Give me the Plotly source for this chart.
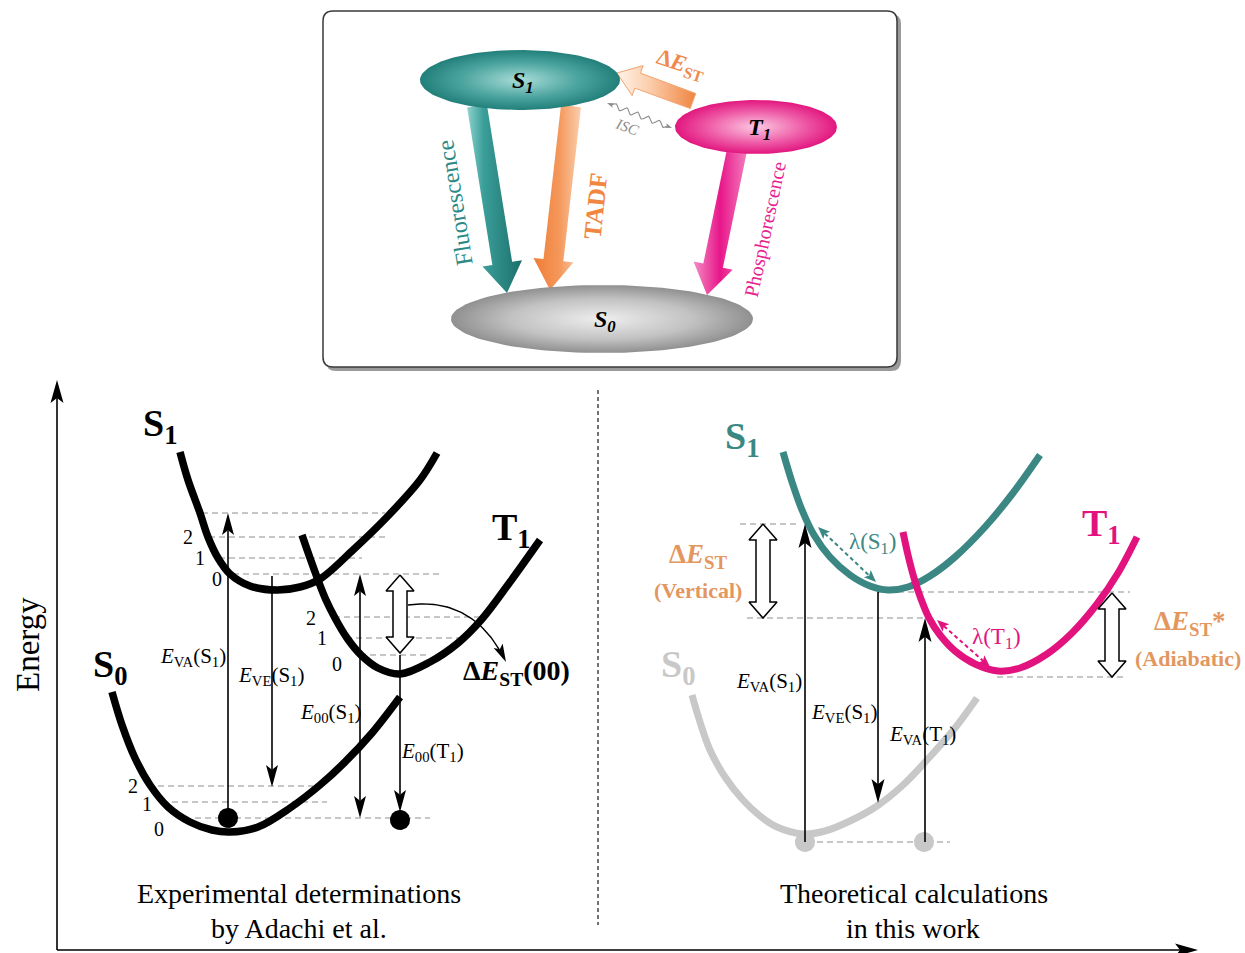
import numpy as np
import plotly.graph_objects as go

W, H = 1245, 953
SERIF = "Liberation Serif, Times New Roman, serif"

# ---------------- data ----------------
# Top panel: electronic states (ellipses)
box_states = ["S<sub>1</sub>", "T<sub>1</sub>", "S<sub>0</sub>"]
box_cx = [520, 756, 602]
box_cy = [80, 127, 319]
box_rx = [100, 81, 151]
box_ry = [30, 27, 34]

# Top panel transitions: tail -> tip
trans_tail_x = [477, 571, 737]
trans_tail_y = [106, 106, 150]
trans_tip_x = [507, 550, 707]
trans_tip_y = [293, 290, 295]
dEST_tail = [693, 101]
dEST_tip = [617, 73]
isc_from = [607, 103]
isc_to = [672, 128]

# Left panel (experimental) potential curves
expS1_x = [180, 188, 200, 208, 218, 230, 250, 277, 300, 320, 353, 387, 420, 437]
expS1_y = [452, 480, 513, 537, 558, 574, 586, 590, 587, 579, 550, 517, 480, 453]
expT1_x = [302, 310, 318, 326, 335, 347, 361, 378, 400, 430, 458, 482, 510, 540]
expT1_y = [535, 558, 580, 600, 618, 638, 655, 668, 674, 662, 643, 619, 582, 540]
expS0_x = [112, 122, 135, 150, 168, 190, 212, 230, 258, 290, 320, 345, 372, 400]
expS0_y = [692, 725, 758, 785, 807, 822, 830, 832, 827, 808, 785, 762, 733, 697]

# Left panel vibrational levels (y, x-start, x-end, label)
expS1_lv_y = [513, 537, 558, 574]
expS1_lv_x0 = [202, 209, 219, 233]
expS1_lv_x1 = [385, 385, 362, 440]
expS1_lv_lab = ["", "2", "1", "0"]
expT1_lv_y = [617, 638, 655]
expT1_lv_x0 = [334, 346, 360]
expT1_lv_x1 = [487, 463, 430]
expT1_lv_lab = ["2", "1", "0"]
expS0_lv_y = [786, 802, 818]
expS0_lv_x0 = [158, 172, 195]
expS0_lv_x1 = [313, 327, 430]
expS0_lv_lab = ["2", "1", "0"]

# Left panel transitions (x, y-from, y-to, kind)
exp_arr_x = [228, 272, 360, 400]
exp_arr_y0 = [818, 576, 574, 655]
exp_arr_y1 = [513, 787, 818, 812]
exp_arr_both = [False, False, True, False]
exp_arr_lab = ["<i>E</i><sub>VA</sub>(S<sub>1</sub>)", "<i>E</i><sub>VE</sub>(S<sub>1</sub>)",
               "<i>E</i><sub>00</sub>(S<sub>1</sub>)", "<i>E</i><sub>00</sub>(T<sub>1</sub>)"]
exp_lab_x = [193, 271, 331, 432]
exp_lab_y = [657, 676, 713, 752]
exp_dots_x = [228, 400]
exp_dots_y = [818, 820]

# Right panel (theory) potential curves
thS1_x = [783, 792, 802, 814, 830, 850, 870, 888, 908, 930, 955, 985, 1013, 1040]
thS1_y = [452, 482, 510, 535, 557, 575, 586, 590, 587, 576, 557, 527, 493, 455]
thT1_x = [903, 908, 914, 921, 929, 940, 955, 975, 998, 1020, 1047, 1072, 1097, 1118, 1137]
thT1_y = [532, 555, 578, 599, 618, 635, 651, 664, 671, 668, 654, 633, 604, 573, 537]
thS0_x = [692, 700, 710, 725, 743, 760, 777, 803, 825, 850, 877, 903, 927, 955, 977]
thS0_y = [695, 722, 750, 777, 800, 816, 827, 834, 831, 821, 806, 785, 760, 728, 698]

# Right panel reference levels
th_lv_y = [524, 592, 618, 677, 842]
th_lv_x0 = [740, 878, 747, 997, 817]
th_lv_x1 = [800, 1130, 927, 1127, 950]

th_arr_x = [805, 878, 925]
th_arr_y0 = [842, 592, 842]
th_arr_y1 = [524, 803, 618]
th_arr_lab = ["<i>E</i><sub>VA</sub>(S<sub>1</sub>)", "<i>E</i><sub>VE</sub>(S<sub>1</sub>)",
              "<i>E</i><sub>VA</sub>(T<sub>1</sub>)"]
th_lab_x = [769, 844, 922]
th_lab_y = [682, 713, 735]
th_dots_x = [805, 924]
th_dots_y = [842, 842]

# ---------------- helpers ----------------
fig = go.Figure()


def add_poly(xs, ys, color=None, grad=None, lc=None, lw=0):
    xs = list(xs) + [xs[0]]
    ys = list(ys) + [ys[0]]
    kw = dict(x=xs, y=ys, mode="lines", fill="toself", hoverinfo="skip", showlegend=False,
              line=dict(color=lc if lc else "rgba(0,0,0,0)", width=lw))
    if grad is not None:
        kw["fillgradient"] = grad
    else:
        kw["fillcolor"] = color
    fig.add_trace(go.Scatter(**kw))


def add_line(xs, ys, color, width, dash=None, spline=False):
    fig.add_trace(go.Scatter(x=list(xs), y=list(ys), mode="lines", hoverinfo="skip", showlegend=False,
                             line=dict(color=color, width=width, dash=dash,
                                       shape="spline" if spline else "linear", smoothing=1.0)))


def head_pts(tx, ty, fx, fy, L, Wd, notch=0.22):
    u = np.array([tx - fx, ty - fy], float)
    u /= np.hypot(*u)
    p = np.array([-u[1], u[0]])
    tip = np.array([tx, ty], float)
    back = tip - L * u
    n = tip - L * (1 - notch) * u
    pts = [tip, back + Wd / 2 * p, n, back - Wd / 2 * p]
    return [q[0] for q in pts], [q[1] for q in pts], n


def thin_arrow(x0, y0, x1, y1, color="black", lw=1.6, L=22, Wd=12, both=False, dash=None):
    hx, hy, n1 = head_pts(x1, y1, x0, y0, L, Wd)
    start = (x0, y0)
    if both:
        hx2, hy2, n0 = head_pts(x0, y0, x1, y1, L, Wd)
        start = n0
        add_poly(hx2, hy2, color)
    add_line([start[0], n1[0]], [start[1], n1[1]], color, lw, dash=dash)
    add_poly(hx, hy, color)


def fat_arrow(x0, y0, x1, y1, s, h, L, color=None, grad=None, lc=None, lw=0, both=False):
    P0 = np.array([x0, y0], float)
    P1 = np.array([x1, y1], float)
    u = (P1 - P0) / np.hypot(*(P1 - P0))
    p = np.array([-u[1], u[0]])
    back = P1 - L * u
    if both:
        back0 = P0 + L * u
        pts = [P0, back0 + h * p, back0 + s * p, back + s * p, back + h * p, P1,
               back - h * p, back - s * p, back0 - s * p, back0 - h * p]
    else:
        pts = [P0 + s * p, back + s * p, back + h * p, P1, back - h * p, back - s * p, P0 - s * p]
    add_poly([q[0] for q in pts], [q[1] for q in pts], color=color, grad=grad, lc=lc, lw=lw)


def dot(x, y, r, color):
    t = np.linspace(0, 2 * np.pi, 40)
    add_poly(x + r * np.cos(t), y + r * np.sin(t), color)


annotations = []


def txt(x, y, text, size, color="black", angle=0, family=SERIF, xanchor="center"):
    annotations.append(dict(x=x, y=y, xref="x", yref="y", text=text, showarrow=False,
                            font=dict(family=family, size=size, color=color),
                            textangle=angle, xanchor=xanchor, yanchor="middle"))


shapes = []


def dline(x0, y0, x1, y1, color="#b4b4b4", width=1.3, dash="6px,4px"):
    shapes.append(dict(type="line", x0=x0, y0=y0, x1=x1, y1=y1, xref="x", yref="y",
                       line=dict(color=color, width=width, dash=dash), layer="below"))


def rrect_path(x0, y0, x1, y1, r):
    return (f"M {x0+r},{y0} L {x1-r},{y0} Q {x1},{y0} {x1},{y0+r} L {x1},{y1-r} "
            f"Q {x1},{y1} {x1-r},{y1} L {x0+r},{y1} Q {x0},{y1} {x0},{y1-r} "
            f"L {x0},{y0+r} Q {x0},{y0} {x0+r},{y0} Z")


# ---------------- top box ----------------
shapes.append(dict(type="path", path=rrect_path(326, 14, 901, 371, 10), xref="x", yref="y",
                   fillcolor="#9a9a9a", line=dict(width=0), layer="below"))
shapes.append(dict(type="path", path=rrect_path(323, 11, 897, 367, 10), xref="x", yref="y",
                   fillcolor="white", line=dict(color="#3a3a3a", width=1.5), layer="below"))

trans_grads = [
    dict(type="horizontal", colorscale=[[0, "#8fd2cd"], [0.3, "#3a9e99"], [1, "#1c6e6a"]]),
    dict(type="horizontal", colorscale=[[0, "#f07c34"], [0.55, "#f4985c"], [1, "#fbcfae"]]),
    dict(type="horizontal", colorscale=[[0, "#f48cc3"], [0.5, "#e8168a"], [1, "#f27cbb"]]),
]
for i in range(3):
    fat_arrow(trans_tail_x[i], trans_tail_y[i], trans_tip_x[i], trans_tip_y[i], 10, 20, 30,
              grad=trans_grads[i])

fat_arrow(dEST_tail[0], dEST_tail[1], dEST_tip[0], dEST_tip[1], 8, 16, 22,
          grad=dict(type="horizontal", colorscale=[[0, "#fff3ea"], [0.4, "#fbcfae"], [1, "#ef8541"]]),
          lc="#f2a46f", lw=1)

# ISC wavy line
A = np.array(isc_from, float)
B = np.array(isc_to, float)
u = (B - A) / np.hypot(*(B - A))
pp = np.array([-u[1], u[0]])
s = np.linspace(0.1, 0.9, 120)
wav = A[None, :] + s[:, None] * (B - A)[None, :] + 2.6 * np.sin(2 * np.pi * 6 * s)[:, None] * pp[None, :]
add_line(wav[:, 0], wav[:, 1], "#8c8c8c", 1.1)
for (tx, ty), (fx, fy) in [((A[0], A[1]), (A[0] + u[0], A[1] + u[1])), ((B[0], B[1]), (B[0] - u[0], B[1] - u[1]))]:
    hx, hy, _ = head_pts(tx, ty, fx, fy, 7, 5)
    add_poly(hx, hy, "#8c8c8c")
add_line([A[0] + 5 * u[0], wav[0, 0]], [A[1] + 5 * u[1], wav[0, 1]], "#8c8c8c", 1.1)
add_line([wav[-1, 0], B[0] - 5 * u[0]], [wav[-1, 1], B[1] - 5 * u[1]], "#8c8c8c", 1.1)

ell_grads = [
    dict(type="radial", colorscale=[[0, "#a8dcd7"], [0.6, "#4aa39e"], [1, "#227f7a"]]),
    dict(type="radial", colorscale=[[0, "#fcc8e2"], [0.6, "#ee5aa6"], [1, "#e2177f"]]),
    dict(type="radial", colorscale=[[0, "#eeeeee"], [0.6, "#c2c2c2"], [1, "#909090"]]),
]
t = np.linspace(0, 2 * np.pi, 120)
for i in range(3):
    add_poly(box_cx[i] + box_rx[i] * np.cos(t), box_cy[i] + box_ry[i] * np.sin(t), grad=ell_grads[i])
    txt(box_cx[i] + 3, box_cy[i] + 2, f"<b><i>{box_states[i]}</i></b>", 24)

txt(455, 203, "Fluorescence", 24, "#2b8a86", angle=-99)
txt(595, 206, "<b>TADF</b>", 25, "#f08640", angle=-84)
txt(765, 229, "Phosphorescence", 20, "#e8228f", angle=-78)
txt(681, 65, "<b>Δ<i>E</i><sub>ST</sub></b>", 23, "#f08a4c", angle=18)
txt(627, 127, "<i>ISC</i>", 15, "#8c8c8c", angle=20)

# ---------------- axes of the lower panel ----------------
thin_arrow(57, 950, 57, 380, lw=1.6, L=23, Wd=13)
thin_arrow(57, 950, 1198, 950, lw=1.6, L=23, Wd=13)
txt(28, 645, "Energy", 33, angle=-90)
dline(598, 390, 598, 925, color="#444444", width=1.5, dash="4px,3px")

# ---------------- left panel ----------------
for ys, x0s, x1s in [(expS1_lv_y, expS1_lv_x0, expS1_lv_x1), (expT1_lv_y, expT1_lv_x0, expT1_lv_x1),
                     (expS0_lv_y, expS0_lv_x0, expS0_lv_x1)]:
    for y, a, b in zip(ys, x0s, x1s):
        dline(a, y, b, y)

add_line(expS1_x, expS1_y, "black", 7.5, spline=True)
add_line(expT1_x, expT1_y, "black", 7.5, spline=True)
add_line(expS0_x, expS0_y, "black", 7.5, spline=True)

for x, y in zip(exp_dots_x, exp_dots_y):
    dot(x, y, 10, "black")

for i in range(4):
    thin_arrow(exp_arr_x[i], exp_arr_y0[i], exp_arr_x[i], exp_arr_y1[i], both=exp_arr_both[i])
    txt(exp_lab_x[i], exp_lab_y[i], exp_arr_lab[i], 21)

# open double arrow dE_ST(00)
fat_arrow(400, 575, 400, 653, 7, 14, 16, color="white", lc="black", lw=1.5, both=True)

# curved arrow to dE_ST(00)
P0, C, P2 = np.array([408, 605.0]), np.array([474, 596.0]), np.array([506, 662.0])
tb = np.linspace(0, 0.9, 40)[:, None]
bz = (1 - tb) ** 2 * P0 + 2 * (1 - tb) * tb * C + tb ** 2 * P2
add_line(bz[:, 0], bz[:, 1], "black", 1.4)
hx, hy, _ = head_pts(P2[0], P2[1], C[0], C[1], 18, 10)
add_poly(hx, hy, "black")

lab_pos = {"S1": [(188, 537), (200, 558), (217, 579)], "T1": [(311, 618), (322, 638), (337, 664)],
           "S0": [(133, 786), (147, 804), (159, 829)]}
for lab, pos in zip(expS1_lv_lab[1:], lab_pos["S1"]):
    txt(pos[0], pos[1], lab, 20)
for lab, pos in zip(expT1_lv_lab, lab_pos["T1"]):
    txt(pos[0], pos[1], lab, 20)
for lab, pos in zip(expS0_lv_lab, lab_pos["S0"]):
    txt(pos[0], pos[1], lab, 20)

txt(160, 426, "<b>S<sub>1</sub></b>", 38)
txt(511, 530, "<b>T<sub>1</sub></b>", 38)
txt(110, 667, "<b>S<sub>0</sub></b>", 38)
txt(516, 672, "<b>Δ<i>E</i><sub>ST</sub>(00)</b>", 28)
txt(299, 893, "Experimental determinations", 28)
txt(299, 928, "by Adachi et al.", 28)

# ---------------- right panel ----------------
for y, a, b in zip(th_lv_y, th_lv_x0, th_lv_x1):
    dline(a, y, b, y)

TEAL, MAG, GRAY, ORG = "#3a8783", "#e2137f", "#c8c8c8", "#e3975f"
add_line(thS0_x, thS0_y, GRAY, 7, spline=True)
add_line(thS1_x, thS1_y, TEAL, 7, spline=True)
add_line(thT1_x, thT1_y, MAG, 7, spline=True)
for x, y in zip(th_dots_x, th_dots_y):
    dot(x, y, 10, GRAY)

for i in range(3):
    thin_arrow(th_arr_x[i], th_arr_y0[i], th_arr_x[i], th_arr_y1[i], L=24, Wd=13)
    txt(th_lab_x[i], th_lab_y[i], th_arr_lab[i], 21)

# reorganisation energies (dashed double arrows)
thin_arrow(818, 527, 876, 582, color=TEAL, lw=2, L=12, Wd=10, both=True, dash="4px,3px")
thin_arrow(937, 620, 990, 667, color=MAG, lw=2, L=12, Wd=10, both=True, dash="4px,3px")
txt(872, 543, "λ(S<sub>1</sub>)", 23, TEAL)
txt(996, 638, "λ(T<sub>1</sub>)", 23, MAG)

fat_arrow(763, 524, 763, 618, 7, 14, 16, color="white", lc="black", lw=1.5, both=True)
fat_arrow(1112, 593, 1112, 677, 7, 14, 16, color="white", lc="black", lw=1.5, both=True)

txt(742, 439, "<b>S<sub>1</sub></b>", 38, TEAL)
txt(1101, 526, "<b>T<sub>1</sub></b>", 38, MAG)
txt(678, 667, "<b>S<sub>0</sub></b>", 38, GRAY)
txt(698, 556, "<b>Δ<i>E</i><sub>ST</sub></b>", 27, ORG)
txt(698, 590, "<b>(Vertical)</b>", 22, ORG)
txt(1190, 623, "<b>Δ<i>E</i><sub>ST</sub>*</b>", 27, ORG)
txt(1188, 658, "<b>(Adiabatic)</b>", 22, ORG)
txt(914, 893, "Theoretical calculations", 28)
txt(913, 928, "in this work", 28)

fig.update_layout(
    width=W, height=H, margin=dict(l=0, r=0, t=0, b=0, pad=0), autosize=False,
    paper_bgcolor="white", plot_bgcolor="white", showlegend=False,
    xaxis=dict(range=[0, W], visible=False, fixedrange=True),
    yaxis=dict(range=[H, 0], visible=False, fixedrange=True),
    shapes=shapes, annotations=annotations,
)
fig.write_html("out.html", config={"displayModeBar": False},
               post_script="document.body.style.margin='0px';document.body.style.overflow='hidden';")
